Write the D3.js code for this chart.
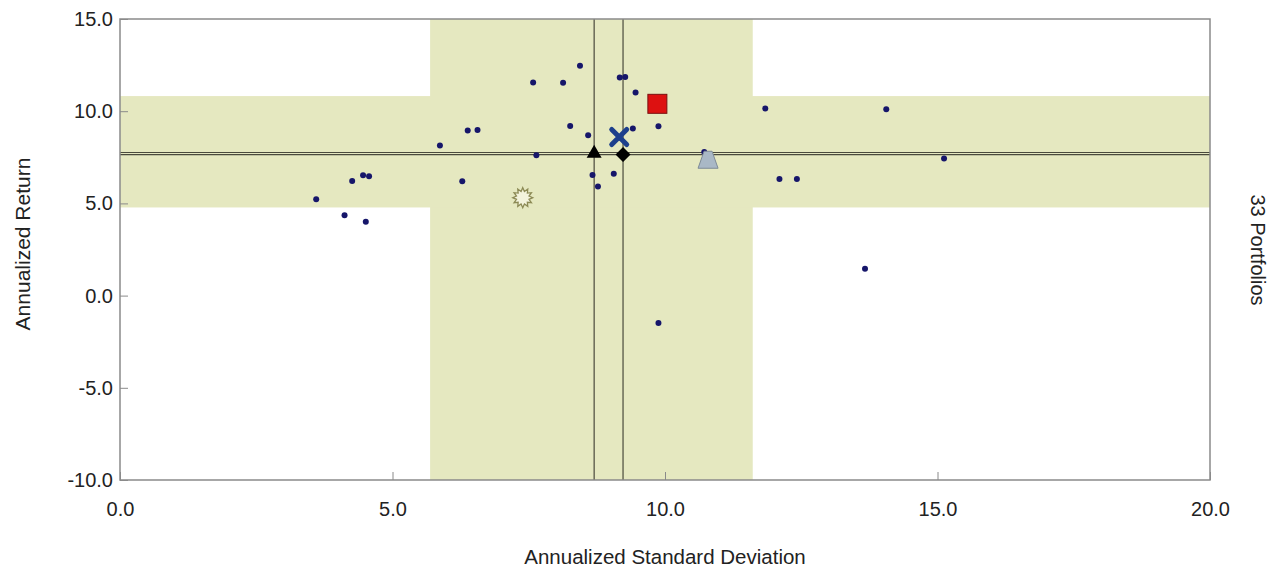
<!DOCTYPE html>
<html>
<head>
<meta charset="utf-8">
<script src="https://cdn.jsdelivr.net/npm/d3@7/dist/d3.min.js"></script>
<style>
html,body{margin:0;padding:0;background:#fff;}
svg{display:block;font-family:"Liberation Sans",Arial,sans-serif;}
</style>
</head>
<body>
<svg id="chart" width="1272" height="569"></svg>
<script>
// ---- data ----
const xTicks = [0, 5, 10, 15, 20];
const yTicks = [15, 10, 5, 0, -5, -10];
const portfolioStd = [8.44, 7.58, 8.13, 9.17, 9.27, 9.46, 8.26, 8.59, 6.38, 6.56, 5.87, 7.64, 9.41, 9.88,
  4.26, 4.46, 4.57, 6.28, 8.67, 9.06, 8.77, 3.60, 4.12, 4.51, 11.84, 14.06, 15.12, 12.10, 12.42, 13.67, 10.72, 9.88, 9.16];
const portfolioRet = [12.46, 11.56, 11.54, 11.83, 11.86, 11.02, 9.20, 8.70, 8.95, 8.98, 8.14, 7.61, 9.06, 9.18,
  6.21, 6.52, 6.47, 6.20, 6.54, 6.61, 5.92, 5.22, 4.36, 4.00, 10.15, 10.10, 7.43, 6.32, 6.32, 1.45, 7.79, -1.48, 8.57];
const benchNames = ["triangle", "diamond", "cross", "square", "grayTriangle", "sun"];
const benchStd = [8.70, 9.23, 9.16, 9.86, 10.79, 7.39];
const benchRet = [7.74, 7.65, 8.60, 10.40, 7.34, 5.31];
const stdBand = [5.69, 11.61];
const retBand = [4.78, 10.82];
const crossStd = [8.70, 9.23];
const crossRet = [7.76, 7.65];
const xTitle = "Annualized Standard Deviation";
const yTitle = "Annualized Return";
const rightTitle = "33 Portfolios";

// ---- layout ----
const svg = d3.select("#chart");
const L = 120, R = 1210, T = 19, B = 480;
const x = d3.scaleLinear().domain([0, 20]).range([L, R]);
const y = d3.scaleLinear().domain([-10, 15]).range([B, T]);
const bandColor = "#e5e8c0";
const fmt = d => d3.format(".1f")(d).replace("\u2212", "-");

// bands
svg.append("rect").attr("x", x(stdBand[0])).attr("y", T)
  .attr("width", x(stdBand[1]) - x(stdBand[0])).attr("height", B - T).attr("fill", bandColor);
svg.append("rect").attr("x", L).attr("y", y(retBand[1]))
  .attr("width", R - L).attr("height", y(retBand[0]) - y(retBand[1])).attr("fill", bandColor);

// crosshair lines
crossStd.forEach(v => svg.append("line").attr("x1", x(v)).attr("x2", x(v)).attr("y1", T).attr("y2", B)
  .attr("stroke", "#4a4a3c").attr("stroke-width", 1.2));
crossRet.forEach(v => svg.append("line").attr("x1", L).attr("x2", R).attr("y1", y(v)).attr("y2", y(v))
  .attr("stroke", "#4a4a3c").attr("stroke-width", 1.2));

// frame
svg.append("rect").attr("x", L).attr("y", T).attr("width", R - L).attr("height", B - T)
  .attr("fill", "none").attr("stroke", "#8a8a8a").attr("stroke-width", 1.5);

// axes
const xAxis = d3.axisBottom(x).tickValues(xTicks).tickFormat(fmt).tickSizeInner(-8).tickSizeOuter(0).tickPadding(22);
const gx = svg.append("g").attr("transform", `translate(0,${B})`).call(xAxis);
gx.select(".domain").remove();
gx.selectAll(".tick line").attr("stroke", "#8a8a8a");
gx.selectAll(".tick text").attr("font-size", 20).attr("fill", "#222").attr("font-family", "Liberation Sans, Arial, sans-serif");

const yAxis = d3.axisLeft(y).tickValues(yTicks).tickFormat(fmt).tickSizeInner(-8).tickSizeOuter(0).tickPadding(7);
const gy = svg.append("g").attr("transform", `translate(${L},0)`).call(yAxis);
gy.select(".domain").remove();
gy.selectAll(".tick line").attr("stroke", "#8a8a8a");
gy.selectAll(".tick text").attr("font-size", 20).attr("fill", "#222").attr("font-family", "Liberation Sans, Arial, sans-serif");

// titles
svg.append("text").attr("x", (L + R) / 2).attr("y", 564).attr("text-anchor", "middle")
  .attr("font-size", 20.5).attr("fill", "#222").text(xTitle);
svg.append("text").attr("transform", `translate(30,244) rotate(-90)`).attr("text-anchor", "middle")
  .attr("font-size", 21).attr("fill", "#222").text(yTitle);
svg.append("text").attr("transform", `translate(1251,250) rotate(90)`).attr("text-anchor", "middle")
  .attr("font-size", 20).attr("fill", "#222").text(rightTitle);

// portfolio dots
svg.append("g").selectAll("circle").data(d3.range(portfolioStd.length)).join("circle")
  .attr("cx", i => x(portfolioStd[i])).attr("cy", i => y(portfolioRet[i])).attr("r", 3)
  .attr("fill", "#16166a");

// benchmark markers
const g = svg.append("g");
benchNames.forEach((name, i) => {
  const cx = x(benchStd[i]), cy = y(benchRet[i]);
  if (name === "triangle") {
    g.append("path").attr("d", `M${cx},${cy - 8} L${cx + 7.5},${cy + 5} L${cx - 7.5},${cy + 5} Z`).attr("fill", "#000");
  } else if (name === "diamond") {
    g.append("path").attr("d", `M${cx},${cy - 7.5} L${cx + 7.5},${cy} L${cx},${cy + 7.5} L${cx - 7.5},${cy} Z`).attr("fill", "#000");
  } else if (name === "cross") {
    const s = 7.5;
    g.append("path").attr("d", `M${cx - s},${cy - s} L${cx + s},${cy + s} M${cx + s},${cy - s} L${cx - s},${cy + s}`)
      .attr("stroke", "#1d3f8c").attr("stroke-width", 5).attr("stroke-linecap", "round");
  } else if (name === "square") {
    g.append("rect").attr("x", cx - 9.5).attr("y", cy - 9.5).attr("width", 19).attr("height", 19)
      .attr("fill", "#dd1111").attr("stroke", "#7a1010").attr("stroke-width", 1);
  } else if (name === "grayTriangle") {
    g.append("path").attr("d", `M${cx - 4},${cy - 9} L${cx + 4},${cy - 9} L${cx + 10},${cy + 8} L${cx - 10},${cy + 8} Z`)
      .attr("fill", "#a9b8c6").attr("stroke", "#7d8a96").attr("stroke-width", 1);
  } else if (name === "sun") {
    const n = 12, ro = 10, ri = 6.5;
    const pts = d3.range(2 * n).map(k => {
      const a = Math.PI * k / n;
      const r = k % 2 === 0 ? ro : ri;
      return [cx + r * Math.sin(a), cy - r * Math.cos(a)];
    });
    g.append("path").attr("d", "M" + pts.map(p => p.join(",")).join("L") + "Z")
      .attr("fill", "#f3f3dc").attr("stroke", "#8c8a55").attr("stroke-width", 1.3);
  }
});
</script>
</body>
</html>
